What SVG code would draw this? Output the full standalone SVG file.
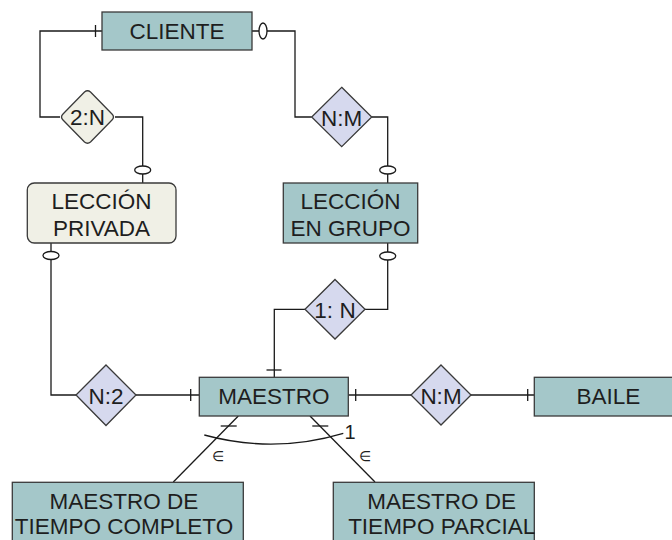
<svg xmlns="http://www.w3.org/2000/svg" width="672" height="540" viewBox="0 0 672 540">
<style>
text{font-family:"Liberation Sans",Arial,sans-serif;font-size:22.5px;fill:#1e1e1e;text-anchor:middle}
.ent{fill:#a4c7c9;stroke:#3a3a3a;stroke-width:1.3}
.weak{fill:#f0f0e6;stroke:#3a3a3a;stroke-width:1.3}
.rel{fill:#d6d9ee;stroke:#3a3a3a;stroke-width:1.3}
.ln{fill:none;stroke:#1a1a1a;stroke-width:1.3}
.mk{fill:#fff;stroke:#1a1a1a;stroke-width:1.3}
.sm{font-size:14px}
.one{font-size:20px}
</style>
<rect width="672" height="540" fill="#fff"/>
<g id="connectors">
  <path class="ln" d="M102,31 H40 V117 H60"/>
  <path class="ln" d="M95.5,25 V37"/>
  <path class="ln" d="M115,117 H142.7 V183"/>
  <ellipse class="mk" cx="142.7" cy="170" rx="8" ry="4"/>
  <path class="ln" d="M252,31 H295 V117 H311.7"/>
  <ellipse class="mk" cx="263" cy="31" rx="4" ry="8"/>
  <path class="ln" d="M371.7,117 H387.7 V183"/>
  <ellipse class="mk" cx="387.7" cy="170" rx="8" ry="4"/>
  <path class="ln" d="M387.7,243 V309.3 H365"/>
  <ellipse class="mk" cx="387.7" cy="256" rx="8" ry="4"/>
  <path class="ln" d="M305,309.3 H274.3 V377"/>
  <path class="ln" d="M266.5,370 H281.5"/>
  <path class="ln" d="M51,243 V395 H76"/>
  <ellipse class="mk" cx="51" cy="255.5" rx="8" ry="4"/>
  <path class="ln" d="M136,395 H199"/>
  <path class="ln" d="M190.7,389 V401"/>
  <path class="ln" d="M348,395 H411"/>
  <path class="ln" d="M355.7,389 V401"/>
  <path class="ln" d="M471,395 H534"/>
  <path class="ln" d="M527.7,389 V401"/>
  <path class="ln" d="M238.3,416 L173.3,482"/>
  <path class="ln" d="M310,416 L375,482"/>
  <path class="ln" d="M220.7,426 H236.7"/>
  <path class="ln" d="M312.3,426 H328.3"/>
  <path class="ln" d="M204.3,435 Q274,454 343.3,433.3"/>
  <text class="one" x="350" y="439">1</text>
  <text class="sm" x="218" y="461">∈</text>
  <text class="sm" x="365" y="461">∈</text>
</g>
<g id="cliente">
  <rect class="ent" x="102" y="12" width="150" height="38"/>
  <text x="177" y="39">CLIENTE</text>
</g>
<g id="rel-2n">
  <path class="weak" d="M84.5,92 Q87.5,89.5 90.5,92 L112,114 Q115,117 112,120 L90.5,142 Q87.5,144.5 84.5,142 L63,120 Q60,117 63,114 Z"/>
  <text x="87.5" y="125">2:N</text>
</g>
<g id="rel-nm-top">
  <path class="rel" d="M341.7,87.3 L371.7,117 L341.7,146.7 L311.7,117 Z"/>
  <text x="341.7" y="125.5">N:M</text>
</g>
<g id="leccion-privada">
  <rect class="weak" x="27.3" y="183" width="148.7" height="60" rx="7"/>
  <text x="101.5" y="208.5">LECCIÓN</text>
  <text x="101.5" y="236">PRIVADA</text>
</g>
<g id="leccion-grupo">
  <rect class="ent" x="283.3" y="183" width="134.4" height="60"/>
  <text x="350.5" y="208.5">LECCIÓN</text>
  <text x="350.5" y="236">EN GRUPO</text>
</g>
<g id="rel-1n">
  <path class="rel" d="M335,279.5 L365,309.3 L335,339 L305,309.3 Z"/>
  <text x="335" y="317.5">1: N</text>
</g>
<g id="rel-n2">
  <path class="rel" d="M106,365 L136,395 L106,425.5 L76,395 Z"/>
  <text x="106" y="403.5">N:2</text>
</g>
<g id="maestro">
  <rect class="ent" x="199.3" y="377.3" width="149" height="38.7"/>
  <text x="274" y="404">MAESTRO</text>
</g>
<g id="rel-nm-baile">
  <path class="rel" d="M441,365 L471,395 L441,425 L411,395 Z"/>
  <text x="441" y="403.5">N:M</text>
</g>
<g id="baile">
  <rect class="ent" x="534.3" y="377.3" width="145" height="38.7"/>
  <text x="608.5" y="404">BAILE</text>
</g>
<g id="maestro-completo">
  <rect class="ent" x="12.3" y="482.3" width="231" height="70"/>
  <text x="124" y="508.5">MAESTRO DE</text>
  <text x="124" y="534">TIEMPO COMPLETO</text>
</g>
<g id="maestro-parcial">
  <rect class="ent" x="333.3" y="482.3" width="201" height="70"/>
  <text x="441.7" y="508.5">MAESTRO DE</text>
  <text x="441.7" y="534">TIEMPO PARCIAL</text>
</g>
</svg>
